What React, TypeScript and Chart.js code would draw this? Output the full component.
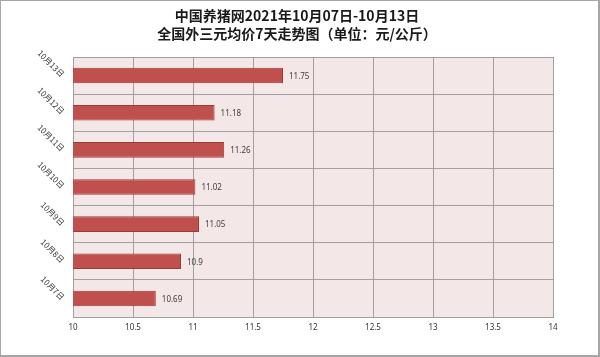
import React, { useEffect, useRef } from "react";
import { Chart, registerables } from "chart.js";

Chart.register(...registerables);

const titleLines = ["中国养猪网2021年10月07日-10月13日", "全国外三元均价7天走势图（单位：元/公斤）"];
const dates = ["10月13日", "10月12日", "10月11日", "10月10日", "10月9日", "10月8日", "10月7日"];
const prices = [11.75, 11.18, 11.26, 11.02, 11.05, 10.9, 10.69];
const xMin = 10;
const xMax = 14;
const xStep = 0.5;

const W = 600;
const H = 357;

export default function App() {
  const ref = useRef<HTMLCanvasElement | null>(null);

  useEffect(() => {
    document.body.style.margin = "0";
    const canvas = ref.current;
    if (!canvas) return;

    const bgPlugin = {
      id: "bgPlugin",
      beforeDraw(chart: any) {
        const { ctx, chartArea } = chart;
        ctx.save();
        ctx.fillStyle = "#ffffff";
        ctx.fillRect(0, 0, W, H);
        ctx.fillStyle = "#F3E7E7";
        ctx.fillRect(chartArea.left, chartArea.top, chartArea.right - chartArea.left, chartArea.bottom - chartArea.top);
        ctx.restore();
      },
      afterDraw(chart: any) {
        const { ctx } = chart;
        ctx.save();
        ctx.fillStyle = "#A6A6A6";
        ctx.fillRect(0, 0, W, 1);
        ctx.fillRect(0, 0, 1, H);
        ctx.fillRect(W - 2, 0, 2, H);
        ctx.fillRect(0, H - 2, W, 2);
        ctx.restore();
      },
    };

    const titlePlugin = {
      id: "titlePlugin",
      afterDraw(chart: any) {
        const { ctx } = chart;
        ctx.save();
        ctx.fillStyle = "#1a1a1a";
        ctx.font = "bold 14px 'Noto Sans CJK SC'";
        ctx.textAlign = "center";
        ctx.textBaseline = "middle";
        titleLines.forEach((t, i) => ctx.fillText(t, 297, 16 + i * 17.5));
        ctx.restore();
      },
    };

    const labelPlugin = {
      id: "labelPlugin",
      afterDatasetsDraw(chart: any) {
        const { ctx } = chart;
        const meta = chart.getDatasetMeta(0);
        ctx.save();
        ctx.fillStyle = "#404040";
        ctx.font = "8px 'Noto Sans'";
        ctx.textAlign = "left";
        ctx.textBaseline = "middle";
        meta.data.forEach((bar: any, i: number) => {
          ctx.fillText(String(prices[i]), bar.x + 6, bar.y + 1);
        });
        ctx.restore();
      },
    };

    const chart = new Chart(canvas, {
      type: "bar",
      data: {
        labels: dates,
        datasets: [
          {
            data: prices,
            backgroundColor: "#C0504D",
            borderColor: "#9A3B39",
            borderWidth: 1,
            borderSkipped: false,
            barPercentage: 0.42,
            categoryPercentage: 1,
          },
        ],
      },
      options: {
        indexAxis: "y",
        responsive: false,
        animation: false,
        layout: { padding: { top: 57, left: 0, right: 47, bottom: 0 } },
        plugins: {
          legend: { display: false },
          title: { display: false },
          tooltip: { enabled: false },
        },
        scales: {
          x: {
            min: xMin,
            max: xMax,
            afterFit(scale: any) {
              scale.height = 40;
            },
            ticks: {
              stepSize: xStep,
              padding: 6,
              color: "#333333",
              font: { family: "'Noto Sans'", size: 8 },
              maxRotation: 0,
              callback: (v: any) => String(Number(v)),
            },
            grid: { color: "#A0A0A0", drawTicks: false, lineWidth: 1 },
            border: { display: true, color: "#A0A0A0" },
          },
          y: {
            afterFit(scale: any) {
              scale.width = 73;
            },
            ticks: {
              minRotation: -45,
              maxRotation: -45,
              padding: 10,
              color: "#333333",
              font: { family: "'Noto Sans CJK SC'", size: 8 },
            },
            grid: { color: "#A0A0A0", drawTicks: false, offset: true, lineWidth: 1 },
            border: { display: true, color: "#A0A0A0" },
          },
        },
      },
      plugins: [bgPlugin, titlePlugin, labelPlugin],
    } as any);

    return () => chart.destroy();
  }, []);

  return (
    <div style={{ width: W, height: H }}>
      <canvas ref={ref} width={W} height={H} style={{ display: "block", width: W, height: H }} />
    </div>
  );
}
